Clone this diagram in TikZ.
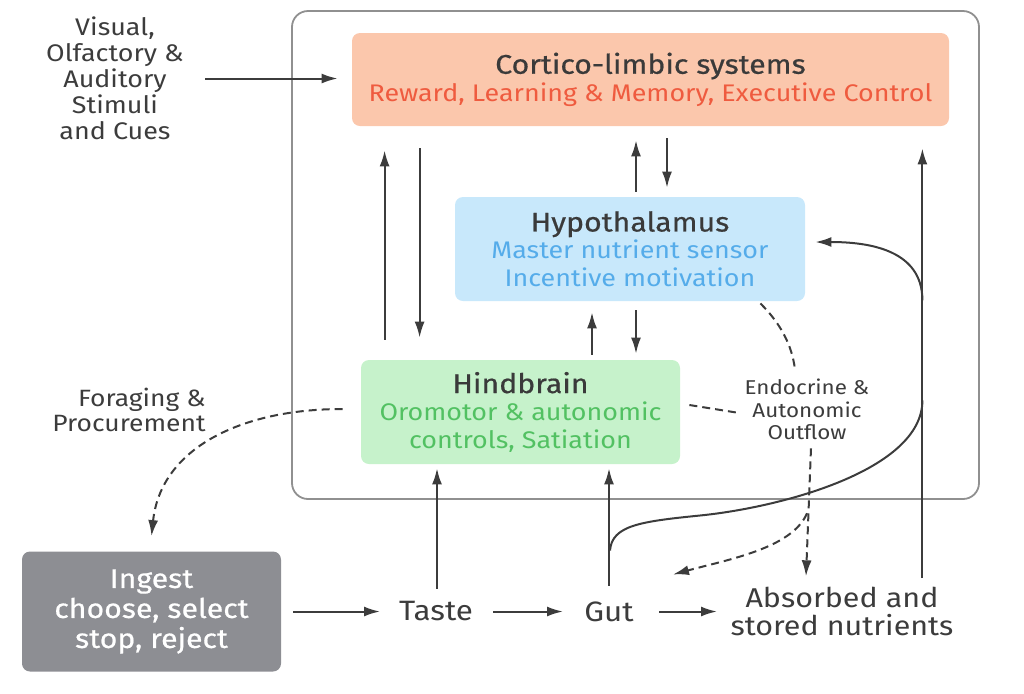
\documentclass[tikz,border=0pt]{standalone}
\usepackage{fontspec}
\setmainfont{Fira Sans}[FakeStretch=1.12]
\newfontfamily\titlefont{Fira Sans}[FakeStretch=1.12, FakeBold=0.6]
\usepackage{tikz}
\usetikzlibrary{positioning}
\usetikzlibrary{calc}
\usetikzlibrary{arrows.meta}

\definecolor{inkgray}{HTML}{3C3C3C}
\definecolor{titlegray}{HTML}{3A3A3A}
\definecolor{framegray}{HTML}{909090}
\definecolor{corticofill}{HTML}{FBC7AC}
\definecolor{corticotext}{HTML}{EF5B3F}
\definecolor{hypofill}{HTML}{C8E8FB}
\definecolor{hypotext}{HTML}{55ACEA}
\definecolor{hindfill}{HTML}{C6F2CB}
\definecolor{hindtext}{HTML}{52C162}
\definecolor{ingestfill}{HTML}{8D8E93}

\newcommand{\boxtitle}[1]{{\titlefont\fontsize{13.5}{14}\selectfont\color{titlegray}#1}}

\begin{document}
\begin{tikzpicture}[x=0.5pt, y=-0.5pt,
		line/.style={draw=inkgray, line width=1pt},
		arr/.style={line, -{Latex[length=8pt, width=5pt]}},
		dashline/.style={dash pattern=on 4pt off 2.5pt},
		box/.style={rounded corners=4pt, inner sep=0pt, align=center, font=\fontsize{12}{13.75}\selectfont},
		lbl/.style={inner sep=0pt, align=center, text=inkgray}]
			\useasboundingbox (0,0) rectangle (1024,693);
			\node (brain) at (635.5,255) [draw=framegray, line width=0.9pt, rounded corners=8pt, minimum width=343.5pt, minimum height=244pt] {};
			\node (cortico) at (650.5,79.5) [box, fill=corticofill, text=corticotext, minimum width=298.5pt, minimum height=46.5pt] {\boxtitle{Cortico-limbic systems}\\Reward, Learning \& Memory, Executive Control};
			\node (hypo) at (630,249) [box, fill=hypofill, text=hypotext, minimum width=175pt, minimum height=52pt] {\boxtitle{Hypothalamus}\\Master nutrient sensor\\Incentive motivation};
			\node (hind) at (520.5,412) [box, fill=hindfill, text=hindtext, minimum width=159.5pt, minimum height=52pt] {\boxtitle{Hindbrain}\\Oromotor \& autonomic\\controls, Satiation};
			\node (ingest) at (151.5,611.5) [box, fill=ingestfill, text=white, minimum width=129.5pt, minimum height=60pt, font=\titlefont\fontsize{13.5}{15}\selectfont] {Ingest\\choose, select\\stop, reject};
			\node (visual) at (115,78.5) [lbl, font=\fontsize{12}{13}\selectfont] {Visual,\\Olfactory \&\\Auditory\\Stimuli\\and Cues};
			\node (forage) at (129,409.5) [lbl, align=right, font=\fontsize{11.8}{12.5}\selectfont] {Foraging \&\\Procurement};
			\node (endo) at (807,409.5) [lbl, font=\fontsize{10}{11.25}\selectfont] {Endocrine \&\\Autonomic\\Outflow};
			\node (taste) at (436,611.5) [lbl, font=\fontsize{14}{14}\selectfont] {Taste};
			\node (gut) at (609,611.5) [lbl, font=\fontsize{14}{14}\selectfont] {Gut};
			\node (absorbed) at (842,611) [lbl, font=\fontsize{13.6}{14}\selectfont] {Absorbed and\\stored nutrients};
			\coordinate (merge) at ($(cortico.south east)+(-27,274)$);
			\coordinate (branch) at ($(cortico.south east)+(-27,174)$);
			\coordinate (gutbend) at ($(gut)+(1,-61)$);
			\draw[arr] ($(visual.east)+(21,0)$) -- ($(cortico.west |- visual.east)+(-14,0)$);
			\draw[arr] ($(hind.north west)+(24,-20)$) -- ($(cortico.south west)+(33,24)$);
			\draw[arr] ($(cortico.south west)+(68,22)$) -- ($(hind.north west)+(59,-22)$);
			\draw[arr] ($(hypo.north)+(6,-5)$) -- ($(hypo.north |- cortico.south)+(6,14)$);
			\draw[arr] ($(hypo.north |- cortico.south)+(37,12)$) -- ($(hypo.north)+(37,-9)$);
			\draw[arr] ($(hypo.south |- hind.north)+(-38,-5)$) -- ($(hypo.south)+(-38,11)$);
			\draw[arr] ($(hypo.south)+(6,9)$) -- ($(hypo.south |- hind.north)+(6,-6)$);
			\draw[arr] ($(ingest.east)+(12,0)$) -- ($(taste)+(-56,0)$);
			\draw[arr] ($(taste)+(57,0)$) -- ($(gut)+(-46,0)$);
			\draw[arr] ($(gut)+(50,0)$) -- ($(gut -| absorbed)+(-125,0)$);
			\draw[arr] ($(taste)+(1,-23)$) -- ($(taste |- hind.south)+(1,4)$);
			\draw[arr] ($(gut)+(0,-26)$) -- ($(gut |- hind.south)+(0,4)$);
			\draw[arr] ($(absorbed -| cortico.south east)+(-27,-33)$) -- ($(cortico.south east)+(-27,22)$);
			\draw[line] (gutbend) .. controls +(2,-25) and +(-60,6) .. ($(gutbend)+(90,-35)$) .. controls +(80,-8) and +(0,70) .. (merge);
			\draw[arr] (branch) .. controls +(0,-50) and +(55,0) .. ($(hypo.east)+(10,-7)$);
			\draw[line, dashline] ($(hypo.south east)+(-45,2)$) .. controls +(20,20) and +(-3,-25) .. ($(endo.north)+(-12,-9)$);
			\draw[line, dashline] ($(hind.east)+(9,-7)$) -- ($(endo.west)+(-8,3)$);
			\draw[arr, dashline] ($(endo.south)+(4,8)$) -- ($(endo.south)+(-1,136)$);
			\draw[arr, dashline] ($(endo.south)+(0,73)$) .. controls +(-15,35) and +(55,-15) .. ($(gut)+(64,-37)$);
			\draw[arr, dashline] ($(hind.west)+(-18,-3)$) .. controls +(-103,0) and +(9,-87) .. ($(ingest.north)+(0,-15)$);
		\end{tikzpicture}
\end{document}
